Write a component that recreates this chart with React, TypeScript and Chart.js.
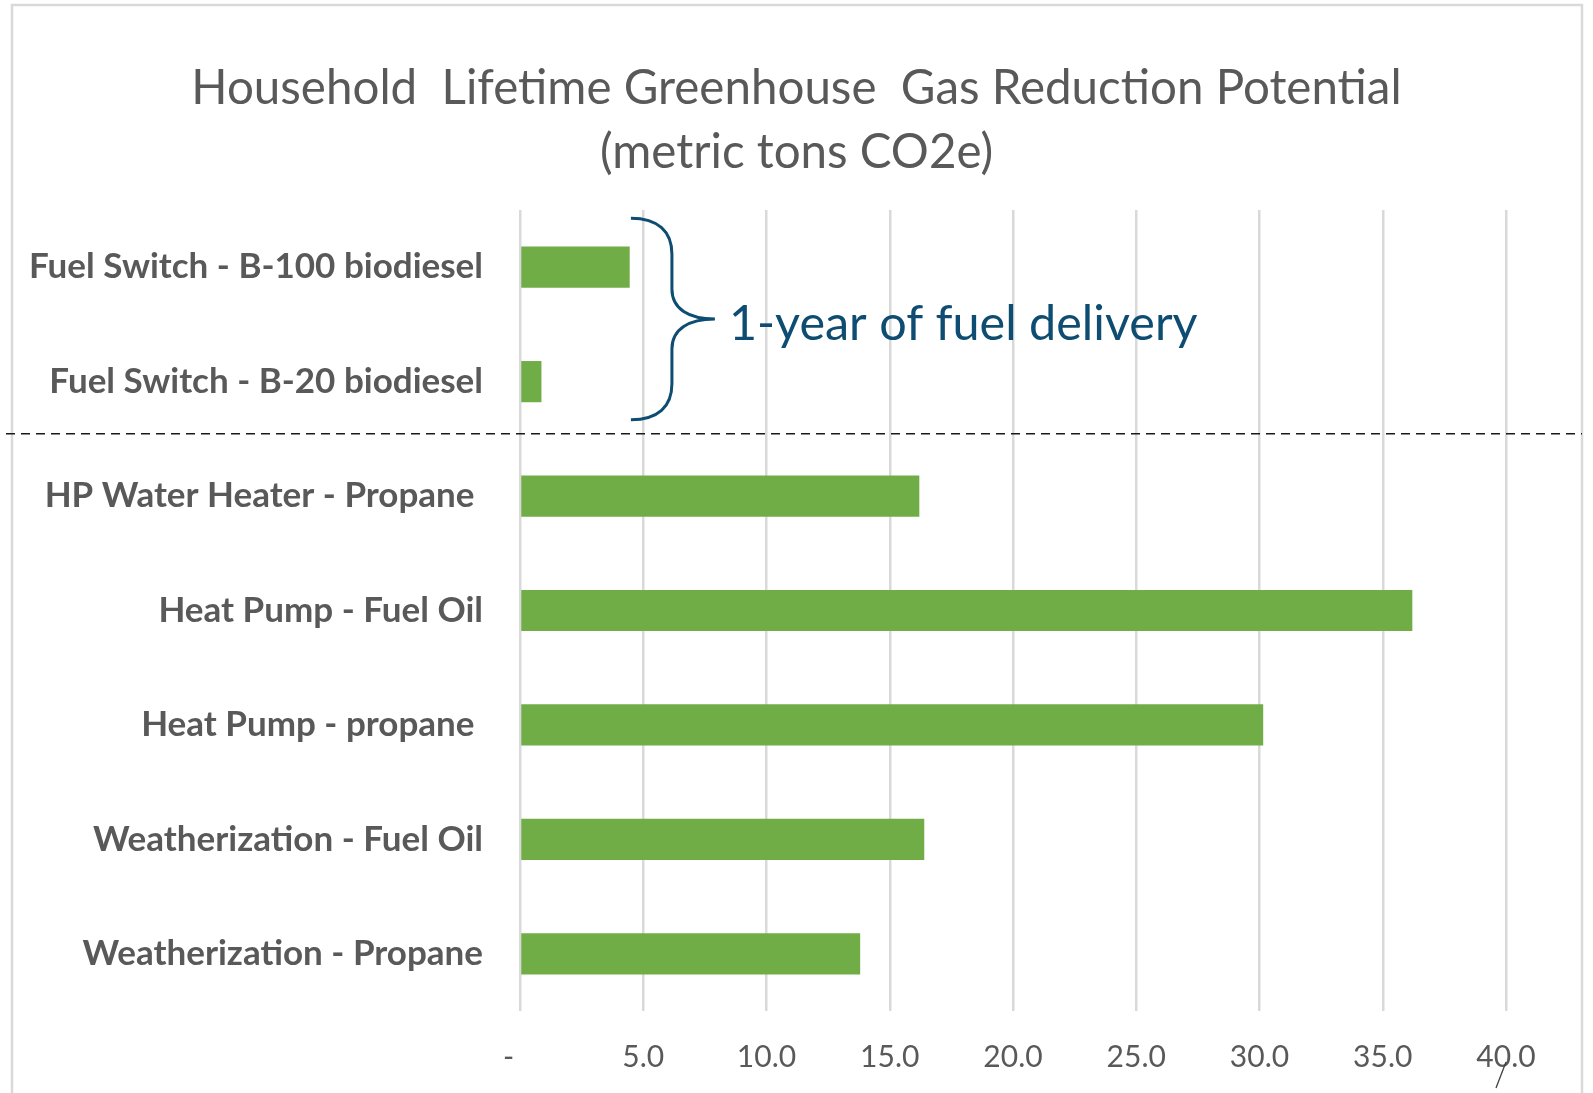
import React, { useEffect, useRef } from 'react';
import { Chart, registerables } from 'chart.js';

Chart.register(...registerables);

const categories = [
  'Fuel Switch - B-100 biodiesel',
  'Fuel Switch - B-20 biodiesel',
  'HP Water Heater - Propane ',
  'Heat Pump - Fuel Oil',
  'Heat Pump - propane ',
  'Weatherization - Fuel Oil',
  'Weatherization - Propane',
];
const reductionValues = [4.45, 0.87, 16.2, 36.2, 30.15, 16.4, 13.8];
const xMin = 0;
const xMax = 40;
const xStep = 5;
const titleLines = ['Household  Lifetime Greenhouse  Gas Reduction Potential', '(metric tons CO2e)'];
const braceLabel = '1-year of fuel delivery';

const GRAY = '#595959';
const GREEN = '#70ad47';
const TEAL = '#0e4d71';

const decorPlugin = {
  id: 'decor',
  afterDraw(chart: any) {
    const ctx = chart.ctx as CanvasRenderingContext2D;
    const x = chart.scales.x;
    const y = chart.scales.y;
    ctx.save();
    // outer frame
    ctx.strokeStyle = '#d9d9d9';
    ctx.lineWidth = 2.5;
    ctx.strokeRect(12, 5, 1570, 1100);

    // dashed separator between category 1 and 2
    const sepY = (y.getPixelForValue(1) + y.getPixelForValue(2)) / 2 - 5;
    ctx.strokeStyle = '#1a1a1a';
    ctx.lineWidth = 1.5;
    ctx.setLineDash([9, 6]);
    ctx.beginPath();
    ctx.moveTo(6, sepY);
    ctx.lineTo(1582, sepY);
    ctx.stroke();
    ctx.setLineDash([]);

    // brace
    const top = y.getPixelForValue(0) - 49;
    const bot = y.getPixelForValue(1) + 38;
    const mid = (top + bot) / 2;
    const tipX = x.getPixelForValue(4.5);
    const vx = tipX + 41;
    const px = tipX + 84;
    ctx.strokeStyle = TEAL;
    ctx.lineWidth = 3;
    ctx.beginPath();
    ctx.moveTo(tipX, top);
    ctx.bezierCurveTo(tipX + 27, top, vx, top + 13, vx, top + 36);
    ctx.lineTo(vx, mid - 30);
    ctx.bezierCurveTo(vx, mid - 10, vx + 17, mid, px, mid);
    ctx.bezierCurveTo(vx + 17, mid, vx, mid + 10, vx, mid + 30);
    ctx.lineTo(vx, bot - 36);
    ctx.bezierCurveTo(vx, bot - 13, tipX + 27, bot, tipX, bot);
    ctx.stroke();

    ctx.fillStyle = TEAL;
    ctx.font = '48.5px Lato';
    ctx.textAlign = 'left';
    ctx.textBaseline = 'alphabetic';
    ctx.fillText(braceLabel, px + 14, mid + 21);

    // small stray stroke near last tick
    ctx.strokeStyle = '#404040';
    ctx.lineWidth = 1.3;
    ctx.beginPath();
    ctx.moveTo(x.getPixelForValue(40), 1062);
    ctx.lineTo(x.getPixelForValue(40) - 10, 1088);
    ctx.stroke();
    ctx.restore();
  },
};

export default function App() {
  const ref = useRef<HTMLCanvasElement | null>(null);
  useEffect(() => {
    if (!ref.current) return;
    const chart = new Chart(ref.current, {
      type: 'bar',
      data: {
        labels: categories,
        datasets: [
          {
            data: reductionValues,
            backgroundColor: GREEN,
            borderWidth: 0,
            barPercentage: 0.36,
            categoryPercentage: 1,
          },
        ],
      },
      options: {
        indexAxis: 'y',
        animation: false,
        responsive: false,
        devicePixelRatio: 1,
        layout: { padding: { left: 0, right: 0, top: 0, bottom: 0 } },
        plugins: {
          legend: { display: false },
          tooltip: { enabled: false },
          title: {
            display: true,
            text: titleLines,
            color: GRAY,
            font: { family: 'Lato', size: 47.5, weight: 'normal', lineHeight: 64 / 47.5 },
            padding: { top: 57, bottom: 25 },
          },
        },
        scales: {
          x: {
            type: 'linear',
            min: xMin,
            max: xMax,
            grid: { color: '#d9d9d9', lineWidth: 2.5, drawTicks: false },
            border: { display: false },
            ticks: {
              stepSize: xStep,
              autoSkip: false,
              maxRotation: 0,
              color: GRAY,
              font: { family: 'Lato', size: 30 },
              padding: 28,
              callback: (v: any) => (Number(v) === 0 ? '-   ' : Number(v).toFixed(1)),
            },
            afterFit: (s: any) => {
              s.height = 82;
            },
          },
          y: {
            type: 'category',
            grid: { display: false, drawTicks: false },
            border: { display: false },
            ticks: {
              color: GRAY,
              font: { family: 'Lato', size: 35, weight: 'bold' },
              padding: 37,
              autoSkip: false,
            },
            afterFit: (s: any) => {
              s.width = 520;
            },
          },
          yRight: {
            type: 'linear',
            position: 'right',
            display: true,
            grid: { display: false, drawTicks: false },
            border: { display: false },
            ticks: { display: false },
            afterFit: (s: any) => {
              s.width = 87;
            },
          },
        },
      },
      plugins: [decorPlugin],
    });
    return () => chart.destroy();
  }, []);
  return (
    <div style={{ position: 'absolute', left: 0, top: 0, width: 1593, height: 1093, background: '#fff' }}>
      <canvas ref={ref} width={1593} height={1093} />
    </div>
  );
}
